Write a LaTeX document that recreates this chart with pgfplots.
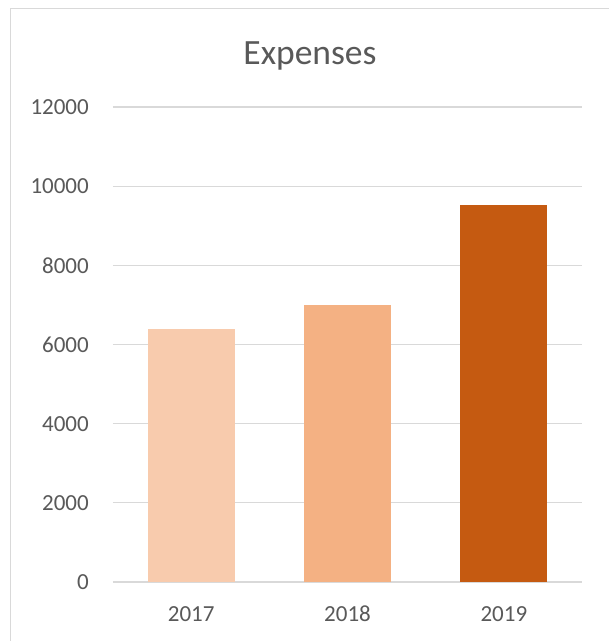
\documentclass[border=0pt]{standalone}
\usepackage{pgfplots}
\pgfplotsset{compat=1.18}
\usepackage{fontspec}
\setmainfont{Carlito}
\definecolor{gridc}{HTML}{D9D9D9}
\definecolor{txt}{HTML}{595959}
\definecolor{cA}{HTML}{F8CBAD}
\definecolor{cB}{HTML}{F4B183}
\definecolor{cC}{HTML}{C55A11}
\begin{document}
\begin{tikzpicture}[x=1pt,y=1pt]
\useasboundingbox (0,0) rectangle (609,641);
\fill[white] (0,0) rectangle (609,641);
\draw[gridc, line width=1.3pt] (10.5,0) -- (10.5,632.5) -- (609,632.5);
\node[txt, font=\fontsize{35.5}{40}\selectfont, anchor=base] at (310,576.7) {Expenses};
\begin{axis}[
  at={(113pt,59pt)}, anchor=south west,
  scale only axis, width=469pt, height=475pt,
  xmin=-0.5, xmax=2.5, ymin=0, ymax=12000,
  ytick={0,2000,4000,6000,8000,10000,12000},
  xtick={0,1,2}, xticklabels={2017,2018,2019},
  axis line style={draw=none},
  major tick length=0pt,
  ymajorgrids, grid style={gridc, line width=1.3pt},
  tick label style={txt, font=\fontsize{23}{27}\selectfont},
  /pgf/number format/assume math mode=true,
  /pgf/number format/1000 sep={},
  scaled y ticks=false,
  yticklabel style={anchor=east, inner sep=0pt, xshift=-24pt},
  xticklabel style={anchor=base, yshift=-39.7pt},
  ybar, bar width=87pt, bar shift=0pt,
  clip=false,
]
\addplot[fill=cA, draw=none] coordinates {(0,6400)};
\addplot[fill=cB, draw=none] coordinates {(1,7000)};
\addplot[fill=cC, draw=none] coordinates {(2,9520)};
\end{axis}
\end{tikzpicture}
\end{document}
